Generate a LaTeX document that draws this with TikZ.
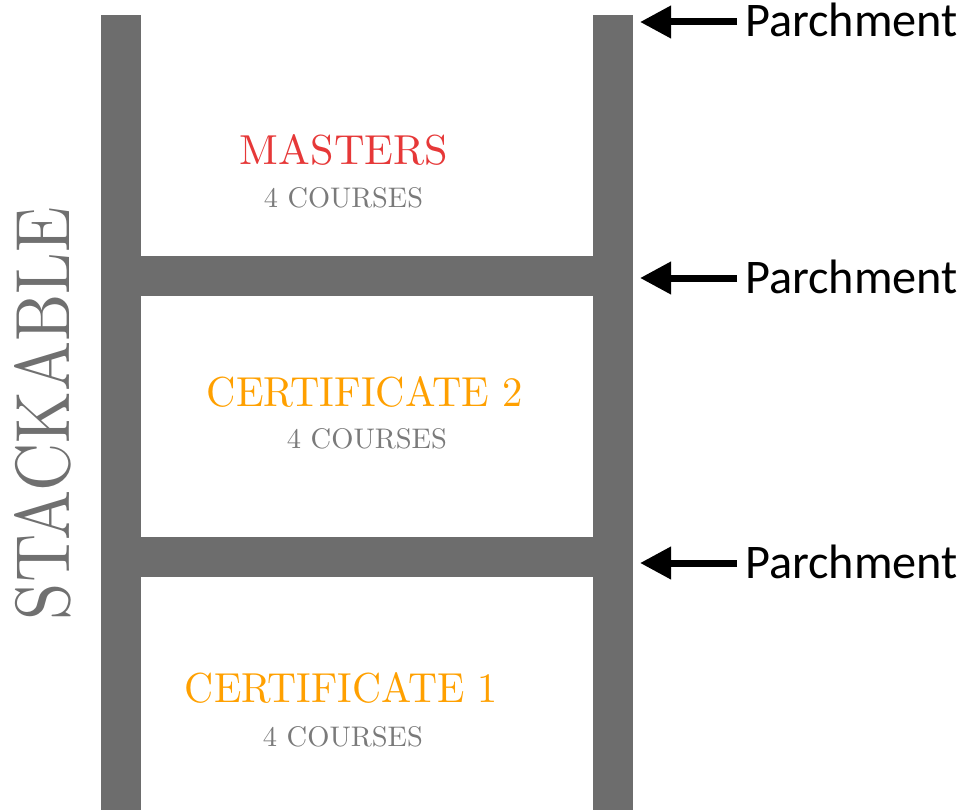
\documentclass[tikz,border=0pt]{standalone}
\usepackage{fontspec}
\usepackage{graphicx}
\newfontfamily\calib{Carlito}
\usetikzlibrary{arrows.meta}
\definecolor{railgray}{HTML}{6D6D6D}
\definecolor{mred}{HTML}{E63838}
\definecolor{corange}{HTML}{FFA000}
\definecolor{tgray}{HTML}{7A7A7A}
\definecolor{sgray}{HTML}{707070}
\tikzset{
  rail/.style={fill=railgray, draw=none},
  lbl/.style={inner sep=0pt, outer sep=0pt},
  parch/.style={inner sep=0pt, anchor=base west, font=\calib\fontsize{48.3}{52}\selectfont},
  parrow/.style={line width=7pt, -{Triangle[length=31pt,width=31pt]}}
}
\begin{document}
\begin{tikzpicture}[x=1pt,y=-1pt]
\useasboundingbox (0,0) rectangle (963,810);
% ladder
\path[rail] (101,15) rectangle (141,810);
\path[rail] (593,15) rectangle (633,810);
\path[rail] (141,256) rectangle (593,296);
\path[rail] (141,537) rectangle (593,577);
% ladder texts
\node[lbl, text=mred] (m) at (344,150) {\resizebox{208pt}{30pt}{MASTERS}};
\node[lbl, text=tgray] (mc) at (343.5,198) {\resizebox{159pt}{20pt}{4 COURSES}};
\node[lbl, text=corange] (c2) at (365,392) {\resizebox{316pt}{30pt}{CERTIFICATE 2}};
\node[lbl, text=tgray] (c2c) at (367,438.5) {\resizebox{160pt}{20pt}{4 COURSES}};
\node[lbl, text=corange] (c1) at (341.5,688) {\resizebox{313pt}{30pt}{CERTIFICATE 1}};
\node[lbl, text=tgray] (c1c) at (343,736.5) {\resizebox{160pt}{20pt}{4 COURSES}};
\node[lbl, text=sgray, rotate=90] (st) at (42.5,413.5) {\resizebox{413pt}{55pt}{STACKABLE}};
% parchment labels
\node[parch] (p1) at (745,37) {Parchment};
\node[parch] (p2) at (745,293) {Parchment};
\node[parch] (p3) at (745,578) {Parchment};
\coordinate (t1) at (640,22);
\coordinate (t2) at (640,278);
\coordinate (t3) at (640,563);
\draw[parrow] (p1.west |- t1) ++(-8,0) -- (t1);
\draw[parrow] (p2.west |- t2) ++(-8,0) -- (t2);
\draw[parrow] (p3.west |- t3) ++(-8,0) -- (t3);
\end{tikzpicture}
\end{document}
